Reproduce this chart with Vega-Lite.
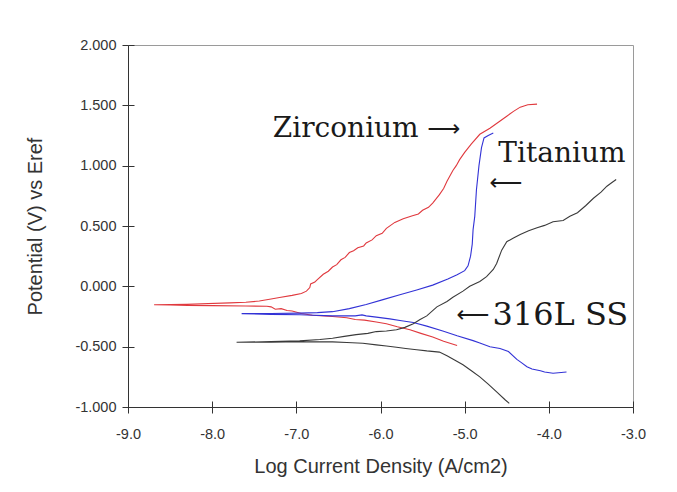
{
  "$schema": "https://vega.github.io/schema/vega-lite/v6.json",
  "width": 505,
  "height": 362,
  "autosize": "none",
  "padding": {"left": 128, "top": 45, "right": 44, "bottom": 85},
  "background": "white",
  "config": {
    "locale": {"number": {"decimal": ".", "thousands": ",", "grouping": [3], "currency": ["$", ""], "minus": "-"}},
    "view": {"stroke": "#9a9a9a", "strokeWidth": 1},
    "axis": {
      "domainColor": "#333333",
      "tickColor": "#333333",
      "labelColor": "#333333",
      "titleColor": "#333333",
      "labelFont": "Liberation Sans",
      "titleFont": "Liberation Sans",
      "labelFontSize": 14.5,
      "titleFontSize": 20,
      "titleFontWeight": "normal",
      "labelFlush": false,
      "grid": false
    }
  },
  "datasets": {
    "curves": [
      {"metal": "Zirconium", "i": 1, "logi": -5.09, "e": -0.49},
      {"metal": "Zirconium", "i": 2, "logi": -5.25, "e": -0.455},
      {"metal": "Zirconium", "i": 3, "logi": -5.38, "e": -0.42},
      {"metal": "Zirconium", "i": 4, "logi": -5.52, "e": -0.39},
      {"metal": "Zirconium", "i": 5, "logi": -5.65, "e": -0.36},
      {"metal": "Zirconium", "i": 6, "logi": -5.8, "e": -0.335},
      {"metal": "Zirconium", "i": 7, "logi": -5.93, "e": -0.31},
      {"metal": "Zirconium", "i": 8, "logi": -6.05, "e": -0.295},
      {"metal": "Zirconium", "i": 9, "logi": -6.19, "e": -0.28},
      {"metal": "Zirconium", "i": 10, "logi": -6.3, "e": -0.275},
      {"metal": "Zirconium", "i": 11, "logi": -6.4, "e": -0.26},
      {"metal": "Zirconium", "i": 12, "logi": -6.57, "e": -0.25},
      {"metal": "Zirconium", "i": 13, "logi": -6.81, "e": -0.24},
      {"metal": "Zirconium", "i": 14, "logi": -6.94, "e": -0.225},
      {"metal": "Zirconium", "i": 15, "logi": -7.05, "e": -0.205},
      {"metal": "Zirconium", "i": 16, "logi": -7.11, "e": -0.2},
      {"metal": "Zirconium", "i": 17, "logi": -7.18, "e": -0.185},
      {"metal": "Zirconium", "i": 18, "logi": -7.25, "e": -0.19},
      {"metal": "Zirconium", "i": 19, "logi": -7.3, "e": -0.17},
      {"metal": "Zirconium", "i": 20, "logi": -7.35, "e": -0.165},
      {"metal": "Zirconium", "i": 21, "logi": -7.6, "e": -0.163},
      {"metal": "Zirconium", "i": 22, "logi": -8.0, "e": -0.16},
      {"metal": "Zirconium", "i": 23, "logi": -8.29, "e": -0.158},
      {"metal": "Zirconium", "i": 24, "logi": -8.5, "e": -0.155},
      {"metal": "Zirconium", "i": 25, "logi": -8.69, "e": -0.152},
      {"metal": "Zirconium", "i": 26, "logi": -8.3, "e": -0.148},
      {"metal": "Zirconium", "i": 27, "logi": -7.79, "e": -0.137},
      {"metal": "Zirconium", "i": 28, "logi": -7.6, "e": -0.132},
      {"metal": "Zirconium", "i": 29, "logi": -7.44, "e": -0.122},
      {"metal": "Zirconium", "i": 30, "logi": -7.3, "e": -0.105},
      {"metal": "Zirconium", "i": 31, "logi": -7.2, "e": -0.093},
      {"metal": "Zirconium", "i": 32, "logi": -7.05, "e": -0.075},
      {"metal": "Zirconium", "i": 33, "logi": -6.94, "e": -0.06},
      {"metal": "Zirconium", "i": 34, "logi": -6.88, "e": -0.04},
      {"metal": "Zirconium", "i": 35, "logi": -6.84, "e": -0.01},
      {"metal": "Zirconium", "i": 36, "logi": -6.83, "e": 0.02},
      {"metal": "Zirconium", "i": 37, "logi": -6.78, "e": 0.035},
      {"metal": "Zirconium", "i": 38, "logi": -6.76, "e": 0.05},
      {"metal": "Zirconium", "i": 39, "logi": -6.68, "e": 0.1},
      {"metal": "Zirconium", "i": 40, "logi": -6.62, "e": 0.125},
      {"metal": "Zirconium", "i": 41, "logi": -6.57, "e": 0.16},
      {"metal": "Zirconium", "i": 42, "logi": -6.52, "e": 0.18},
      {"metal": "Zirconium", "i": 43, "logi": -6.47, "e": 0.22},
      {"metal": "Zirconium", "i": 44, "logi": -6.42, "e": 0.24},
      {"metal": "Zirconium", "i": 45, "logi": -6.37, "e": 0.28},
      {"metal": "Zirconium", "i": 46, "logi": -6.32, "e": 0.295},
      {"metal": "Zirconium", "i": 47, "logi": -6.27, "e": 0.32},
      {"metal": "Zirconium", "i": 48, "logi": -6.2, "e": 0.335},
      {"metal": "Zirconium", "i": 49, "logi": -6.17, "e": 0.36},
      {"metal": "Zirconium", "i": 50, "logi": -6.1, "e": 0.385},
      {"metal": "Zirconium", "i": 51, "logi": -6.05, "e": 0.42},
      {"metal": "Zirconium", "i": 52, "logi": -5.98, "e": 0.44},
      {"metal": "Zirconium", "i": 53, "logi": -5.93, "e": 0.48},
      {"metal": "Zirconium", "i": 54, "logi": -5.83, "e": 0.53},
      {"metal": "Zirconium", "i": 55, "logi": -5.73, "e": 0.56},
      {"metal": "Zirconium", "i": 56, "logi": -5.62, "e": 0.585},
      {"metal": "Zirconium", "i": 57, "logi": -5.55, "e": 0.6},
      {"metal": "Zirconium", "i": 58, "logi": -5.5, "e": 0.63},
      {"metal": "Zirconium", "i": 59, "logi": -5.43, "e": 0.655},
      {"metal": "Zirconium", "i": 60, "logi": -5.38, "e": 0.69},
      {"metal": "Zirconium", "i": 61, "logi": -5.3, "e": 0.76},
      {"metal": "Zirconium", "i": 62, "logi": -5.25, "e": 0.81},
      {"metal": "Zirconium", "i": 63, "logi": -5.21, "e": 0.87},
      {"metal": "Zirconium", "i": 64, "logi": -5.14, "e": 0.96},
      {"metal": "Zirconium", "i": 65, "logi": -5.1, "e": 1.0},
      {"metal": "Zirconium", "i": 66, "logi": -5.06, "e": 1.05},
      {"metal": "Zirconium", "i": 67, "logi": -5.0, "e": 1.11},
      {"metal": "Zirconium", "i": 68, "logi": -4.92, "e": 1.18},
      {"metal": "Zirconium", "i": 69, "logi": -4.82, "e": 1.26},
      {"metal": "Zirconium", "i": 70, "logi": -4.7, "e": 1.31},
      {"metal": "Zirconium", "i": 71, "logi": -4.6, "e": 1.36},
      {"metal": "Zirconium", "i": 72, "logi": -4.5, "e": 1.41},
      {"metal": "Zirconium", "i": 73, "logi": -4.42, "e": 1.45},
      {"metal": "Zirconium", "i": 74, "logi": -4.34, "e": 1.485},
      {"metal": "Zirconium", "i": 75, "logi": -4.25, "e": 1.505},
      {"metal": "Zirconium", "i": 76, "logi": -4.14, "e": 1.51},

      {"metal": "Titanium", "i": 1, "logi": -3.79, "e": -0.71},
      {"metal": "Titanium", "i": 2, "logi": -3.95, "e": -0.72},
      {"metal": "Titanium", "i": 3, "logi": -4.05, "e": -0.71},
      {"metal": "Titanium", "i": 4, "logi": -4.1, "e": -0.7},
      {"metal": "Titanium", "i": 5, "logi": -4.2, "e": -0.685},
      {"metal": "Titanium", "i": 6, "logi": -4.26, "e": -0.666},
      {"metal": "Titanium", "i": 7, "logi": -4.33, "e": -0.63},
      {"metal": "Titanium", "i": 8, "logi": -4.38, "e": -0.605},
      {"metal": "Titanium", "i": 9, "logi": -4.48, "e": -0.54},
      {"metal": "Titanium", "i": 10, "logi": -4.58, "e": -0.515},
      {"metal": "Titanium", "i": 11, "logi": -4.7, "e": -0.5},
      {"metal": "Titanium", "i": 12, "logi": -4.82, "e": -0.47},
      {"metal": "Titanium", "i": 13, "logi": -4.9, "e": -0.45},
      {"metal": "Titanium", "i": 14, "logi": -5.09, "e": -0.41},
      {"metal": "Titanium", "i": 15, "logi": -5.26, "e": -0.37},
      {"metal": "Titanium", "i": 16, "logi": -5.45, "e": -0.33},
      {"metal": "Titanium", "i": 17, "logi": -5.61, "e": -0.3},
      {"metal": "Titanium", "i": 18, "logi": -5.75, "e": -0.285},
      {"metal": "Titanium", "i": 19, "logi": -5.89, "e": -0.27},
      {"metal": "Titanium", "i": 20, "logi": -6.05, "e": -0.255},
      {"metal": "Titanium", "i": 21, "logi": -6.17, "e": -0.245},
      {"metal": "Titanium", "i": 22, "logi": -6.22, "e": -0.237},
      {"metal": "Titanium", "i": 23, "logi": -6.3, "e": -0.245},
      {"metal": "Titanium", "i": 24, "logi": -6.57, "e": -0.245},
      {"metal": "Titanium", "i": 25, "logi": -6.96, "e": -0.235},
      {"metal": "Titanium", "i": 26, "logi": -7.3, "e": -0.232},
      {"metal": "Titanium", "i": 27, "logi": -7.65, "e": -0.226},
      {"metal": "Titanium", "i": 28, "logi": -7.3, "e": -0.225},
      {"metal": "Titanium", "i": 29, "logi": -6.96, "e": -0.222},
      {"metal": "Titanium", "i": 30, "logi": -6.75, "e": -0.218},
      {"metal": "Titanium", "i": 31, "logi": -6.57, "e": -0.21},
      {"metal": "Titanium", "i": 32, "logi": -6.37, "e": -0.185},
      {"metal": "Titanium", "i": 33, "logi": -6.17, "e": -0.15},
      {"metal": "Titanium", "i": 34, "logi": -5.97, "e": -0.11},
      {"metal": "Titanium", "i": 35, "logi": -5.77, "e": -0.07},
      {"metal": "Titanium", "i": 36, "logi": -5.57, "e": -0.03},
      {"metal": "Titanium", "i": 37, "logi": -5.38, "e": 0.01},
      {"metal": "Titanium", "i": 38, "logi": -5.2, "e": 0.06},
      {"metal": "Titanium", "i": 39, "logi": -5.09, "e": 0.096},
      {"metal": "Titanium", "i": 40, "logi": -5.0, "e": 0.13},
      {"metal": "Titanium", "i": 41, "logi": -4.96, "e": 0.17},
      {"metal": "Titanium", "i": 42, "logi": -4.93, "e": 0.25},
      {"metal": "Titanium", "i": 43, "logi": -4.91, "e": 0.35},
      {"metal": "Titanium", "i": 44, "logi": -4.9, "e": 0.47},
      {"metal": "Titanium", "i": 45, "logi": -4.88, "e": 0.58},
      {"metal": "Titanium", "i": 46, "logi": -4.86, "e": 0.8},
      {"metal": "Titanium", "i": 47, "logi": -4.83, "e": 1.0},
      {"metal": "Titanium", "i": 48, "logi": -4.8, "e": 1.15},
      {"metal": "Titanium", "i": 49, "logi": -4.77, "e": 1.23},
      {"metal": "Titanium", "i": 50, "logi": -4.72, "e": 1.25},
      {"metal": "Titanium", "i": 51, "logi": -4.66, "e": 1.27},

      {"metal": "316L SS", "i": 1, "logi": -4.47, "e": -0.97},
      {"metal": "316L SS", "i": 2, "logi": -4.52, "e": -0.94},
      {"metal": "316L SS", "i": 3, "logi": -4.62, "e": -0.875},
      {"metal": "316L SS", "i": 4, "logi": -4.72, "e": -0.81},
      {"metal": "316L SS", "i": 5, "logi": -4.82, "e": -0.75},
      {"metal": "316L SS", "i": 6, "logi": -4.92, "e": -0.7},
      {"metal": "316L SS", "i": 7, "logi": -5.02, "e": -0.65},
      {"metal": "316L SS", "i": 8, "logi": -5.12, "e": -0.61},
      {"metal": "316L SS", "i": 9, "logi": -5.21, "e": -0.575},
      {"metal": "316L SS", "i": 10, "logi": -5.3, "e": -0.545},
      {"metal": "316L SS", "i": 11, "logi": -5.45, "e": -0.535},
      {"metal": "316L SS", "i": 12, "logi": -5.57, "e": -0.525},
      {"metal": "316L SS", "i": 13, "logi": -5.7, "e": -0.515},
      {"metal": "316L SS", "i": 14, "logi": -5.81, "e": -0.505},
      {"metal": "316L SS", "i": 15, "logi": -5.93, "e": -0.495},
      {"metal": "316L SS", "i": 16, "logi": -6.05, "e": -0.485},
      {"metal": "316L SS", "i": 17, "logi": -6.21, "e": -0.472},
      {"metal": "316L SS", "i": 18, "logi": -6.4, "e": -0.465},
      {"metal": "316L SS", "i": 19, "logi": -6.57, "e": -0.46},
      {"metal": "316L SS", "i": 20, "logi": -6.96, "e": -0.458},
      {"metal": "316L SS", "i": 21, "logi": -7.3, "e": -0.462},
      {"metal": "316L SS", "i": 22, "logi": -7.71, "e": -0.464},
      {"metal": "316L SS", "i": 23, "logi": -7.3, "e": -0.458},
      {"metal": "316L SS", "i": 24, "logi": -6.96, "e": -0.452},
      {"metal": "316L SS", "i": 25, "logi": -6.72, "e": -0.44},
      {"metal": "316L SS", "i": 26, "logi": -6.57, "e": -0.43},
      {"metal": "316L SS", "i": 27, "logi": -6.43, "e": -0.415},
      {"metal": "316L SS", "i": 28, "logi": -6.29, "e": -0.4},
      {"metal": "316L SS", "i": 29, "logi": -6.15, "e": -0.39},
      {"metal": "316L SS", "i": 30, "logi": -6.05, "e": -0.375},
      {"metal": "316L SS", "i": 31, "logi": -5.93, "e": -0.37},
      {"metal": "316L SS", "i": 32, "logi": -5.81, "e": -0.36},
      {"metal": "316L SS", "i": 33, "logi": -5.71, "e": -0.34},
      {"metal": "316L SS", "i": 34, "logi": -5.61, "e": -0.31},
      {"metal": "316L SS", "i": 35, "logi": -5.53, "e": -0.275},
      {"metal": "316L SS", "i": 36, "logi": -5.45, "e": -0.245},
      {"metal": "316L SS", "i": 37, "logi": -5.33, "e": -0.17},
      {"metal": "316L SS", "i": 38, "logi": -5.21, "e": -0.125},
      {"metal": "316L SS", "i": 39, "logi": -5.14, "e": -0.09},
      {"metal": "316L SS", "i": 40, "logi": -5.02, "e": -0.04},
      {"metal": "316L SS", "i": 41, "logi": -4.94, "e": 0.0},
      {"metal": "316L SS", "i": 42, "logi": -4.82, "e": 0.04},
      {"metal": "316L SS", "i": 43, "logi": -4.74, "e": 0.08},
      {"metal": "316L SS", "i": 44, "logi": -4.66, "e": 0.14},
      {"metal": "316L SS", "i": 45, "logi": -4.62, "e": 0.19},
      {"metal": "316L SS", "i": 46, "logi": -4.56, "e": 0.3},
      {"metal": "316L SS", "i": 47, "logi": -4.5, "e": 0.37},
      {"metal": "316L SS", "i": 48, "logi": -4.42, "e": 0.4},
      {"metal": "316L SS", "i": 49, "logi": -4.34, "e": 0.43},
      {"metal": "316L SS", "i": 50, "logi": -4.24, "e": 0.46},
      {"metal": "316L SS", "i": 51, "logi": -4.14, "e": 0.485},
      {"metal": "316L SS", "i": 52, "logi": -4.05, "e": 0.505},
      {"metal": "316L SS", "i": 53, "logi": -3.95, "e": 0.535},
      {"metal": "316L SS", "i": 54, "logi": -3.83, "e": 0.545},
      {"metal": "316L SS", "i": 55, "logi": -3.75, "e": 0.58},
      {"metal": "316L SS", "i": 56, "logi": -3.66, "e": 0.61},
      {"metal": "316L SS", "i": 57, "logi": -3.56, "e": 0.67},
      {"metal": "316L SS", "i": 58, "logi": -3.47, "e": 0.73},
      {"metal": "316L SS", "i": 59, "logi": -3.38, "e": 0.78},
      {"metal": "316L SS", "i": 60, "logi": -3.31, "e": 0.83},
      {"metal": "316L SS", "i": 61, "logi": -3.25, "e": 0.86},
      {"metal": "316L SS", "i": 62, "logi": -3.2, "e": 0.885}
    ],
    "labels": [
      {"text": "Zirconium", "logi": -7.28, "e": 1.3, "group": "metal"},
      {"text": "Titanium", "logi": -4.6, "e": 1.095, "group": "metal"},
      {"text": "316L SS", "logi": -4.67, "e": -0.235, "group": "alloy"}
    ],
    "arrows": [
      {"text": "⟶", "logi": -5.25, "e": 1.3},
      {"text": "⟵", "logi": -4.51, "e": 0.86},
      {"text": "⟵", "logi": -4.9, "e": -0.235}
    ]
  },
  "layer": [
    {
      "layer": [
        {
          "data": {"name": "curves"},
          "mark": {"type": "line", "strokeWidth": 1.1, "interpolate": "linear"},
          "encoding": {
            "x": {
              "field": "logi", "type": "quantitative",
              "scale": {"domain": [-9, -3], "nice": false, "zero": false},
              "axis": {
                "orient": "bottom",
                "title": "Log Current Density (A/cm2)",
                "values": [-9, -8, -7, -6, -5, -4, -3],
                "format": ".1f",
                "tickSize": 6,
                "labelPadding": 14,
                "titleBaseline": "middle",
                "titleY": 59
              }
            },
            "y": {
              "field": "e", "type": "quantitative",
              "scale": {"domain": [-1, 2], "nice": false, "zero": false},
              "axis": {
                "orient": "left",
                "title": "Potential (V) vs Eref",
                "values": [-1, -0.5, 0, 0.5, 1, 1.5, 2],
                "format": ".3f",
                "tickSize": 6,
                "labelPadding": 6,
                "titleBaseline": "middle",
                "titleX": -93
              }
            },
            "color": {
              "field": "metal", "type": "nominal",
              "scale": {"domain": ["Zirconium", "Titanium", "316L SS"], "range": ["#e0393e", "#3232d6", "#3a3a3a"]},
              "legend": null
            },
            "order": {"field": "i", "type": "quantitative"}
          }
        },
        {
          "data": {"name": "labels"},
          "transform": [{"filter": "datum.group === 'metal'"}],
          "mark": {"type": "text", "font": "DejaVu Serif", "fontSize": 28, "align": "left", "baseline": "middle", "color": "#1a1a1a"},
          "encoding": {
            "x": {"field": "logi", "type": "quantitative"},
            "y": {"field": "e", "type": "quantitative"},
            "text": {"field": "text"}
          }
        },
        {
          "data": {"name": "labels"},
          "transform": [{"filter": "datum.group === 'alloy'"}],
          "mark": {"type": "text", "font": "DejaVu Serif", "fontSize": 32, "align": "left", "baseline": "middle", "color": "#1a1a1a"},
          "encoding": {
            "x": {"field": "logi", "type": "quantitative"},
            "y": {"field": "e", "type": "quantitative"},
            "text": {"field": "text"}
          }
        },
        {
          "data": {"name": "arrows"},
          "mark": {"type": "text", "font": "DejaVu Sans", "fontSize": 23, "align": "center", "baseline": "middle", "color": "#1a1a1a"},
          "encoding": {
            "x": {"field": "logi", "type": "quantitative"},
            "y": {"field": "e", "type": "quantitative"},
            "text": {"field": "text"}
          }
        }
      ]
    },
    {
      "data": {"name": "curves"},
      "mark": {"type": "point", "opacity": 0},
      "encoding": {
        "x": {
          "field": "logi", "type": "quantitative",
          "axis": {"orient": "bottom", "values": [-9, -8, -7, -6, -5, -4, -3], "tickSize": -6, "labels": false, "domain": false, "title": null}
        },
        "y": {
          "field": "e", "type": "quantitative",
          "axis": {"orient": "left", "values": [-1, -0.5, 0, 0.5, 1, 1.5, 2], "tickSize": -6, "labels": false, "domain": false, "title": null}
        }
      }
    }
  ],
  "resolve": {"axis": {"x": "independent", "y": "independent"}}
}
